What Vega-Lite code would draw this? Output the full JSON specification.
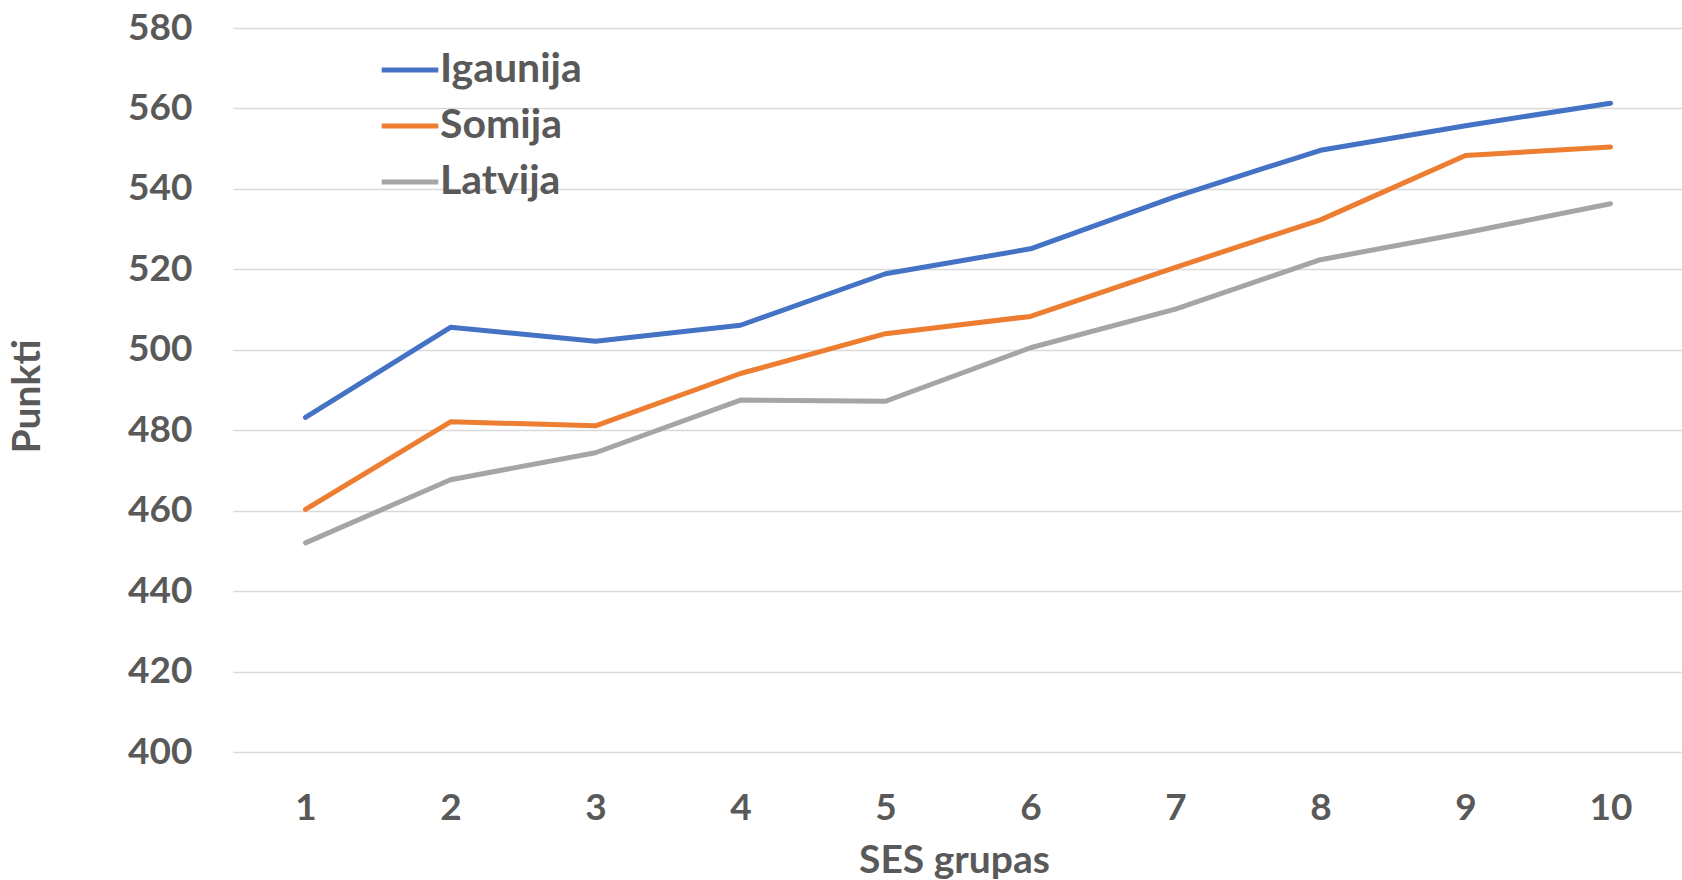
{
  "$schema": "https://vega.github.io/schema/vega-lite/v6.json",
  "autosize": {"type": "none"},
  "padding": {"left": 233, "top": 28, "right": 0, "bottom": 128},
  "width": 1450,
  "height": 724,
  "background": "white",
  "config": {
    "view": {"stroke": null},
    "font": "Lato",
    "axis": {"labelFont": "Lato", "titleFont": "Lato", "labelFontWeight": "bold", "titleFontWeight": "bold", "labelColor": "#595959", "titleColor": "#595959", "labelFontSize": 37, "titleFontSize": 39}
  },
  "data": {
    "values": [
      {"ses": "1", "valsts": "Igaunija", "punkti": 483.2},
      {"ses": "2", "valsts": "Igaunija", "punkti": 505.6},
      {"ses": "3", "valsts": "Igaunija", "punkti": 502.1},
      {"ses": "4", "valsts": "Igaunija", "punkti": 506.1},
      {"ses": "5", "valsts": "Igaunija", "punkti": 518.9},
      {"ses": "6", "valsts": "Igaunija", "punkti": 525.1},
      {"ses": "7", "valsts": "Igaunija", "punkti": 538.1},
      {"ses": "8", "valsts": "Igaunija", "punkti": 549.6},
      {"ses": "9", "valsts": "Igaunija", "punkti": 555.7},
      {"ses": "10", "valsts": "Igaunija", "punkti": 561.3},
      {"ses": "1", "valsts": "Somija", "punkti": 460.3},
      {"ses": "2", "valsts": "Somija", "punkti": 482.1},
      {"ses": "3", "valsts": "Somija", "punkti": 481.1},
      {"ses": "4", "valsts": "Somija", "punkti": 494.1},
      {"ses": "5", "valsts": "Somija", "punkti": 504.0},
      {"ses": "6", "valsts": "Somija", "punkti": 508.3},
      {"ses": "7", "valsts": "Somija", "punkti": 520.5},
      {"ses": "8", "valsts": "Somija", "punkti": 532.3},
      {"ses": "9", "valsts": "Somija", "punkti": 548.3},
      {"ses": "10", "valsts": "Somija", "punkti": 550.4},
      {"ses": "1", "valsts": "Latvija", "punkti": 452.0},
      {"ses": "2", "valsts": "Latvija", "punkti": 467.7},
      {"ses": "3", "valsts": "Latvija", "punkti": 474.4},
      {"ses": "4", "valsts": "Latvija", "punkti": 487.5},
      {"ses": "5", "valsts": "Latvija", "punkti": 487.2},
      {"ses": "6", "valsts": "Latvija", "punkti": 500.5},
      {"ses": "7", "valsts": "Latvija", "punkti": 510.1},
      {"ses": "8", "valsts": "Latvija", "punkti": 522.4},
      {"ses": "9", "valsts": "Latvija", "punkti": 529.1},
      {"ses": "10", "valsts": "Latvija", "punkti": 536.3}
    ]
  },
  "mark": {"type": "line", "strokeWidth": 5, "strokeCap": "round", "strokeJoin": "round"},
  "encoding": {
    "x": {
      "field": "ses", "type": "ordinal", "sort": ["1","2","3","4","5","6","7","8","9","10"],
      "scale": {"type": "point", "padding": 0.5},
      "axis": {"title": "SES grupas", "labelAngle": 0, "ticks": false, "domain": false, "grid": false, "labelPadding": 38, "titleY": 108, "titleX": 721, "titleBaseline": "middle"}
    },
    "y": {
      "field": "punkti", "type": "quantitative",
      "scale": {"domain": [400, 580], "nice": false, "zero": false},
      "axis": {"title": "Punkti", "values": [400,420,440,460,480,500,520,540,560,580], "ticks": false, "domain": false, "grid": true, "gridColor": "#D9D9D9", "gridWidth": 1.5, "labelPadding": 41, "titleAngle": -90, "titleX": -206, "titleY": 368, "titleAlign": "center", "titleBaseline": "middle"}
    },
    "color": {
      "field": "valsts", "type": "nominal",
      "scale": {"domain": ["Igaunija", "Somija", "Latvija"], "range": ["#4472C4", "#ED7D31", "#A5A5A5"]},
      "legend": {"title": null, "orient": "none", "legendX": 146, "legendY": 11, "symbolType": "stroke", "symbolSize": 3200, "symbolStrokeWidth": 5, "labelFont": "Lato", "labelFontWeight": "bold", "labelFontSize": 41, "labelColor": "#595959", "labelOffset": -1, "rowPadding": 5}
    }
  }
}
